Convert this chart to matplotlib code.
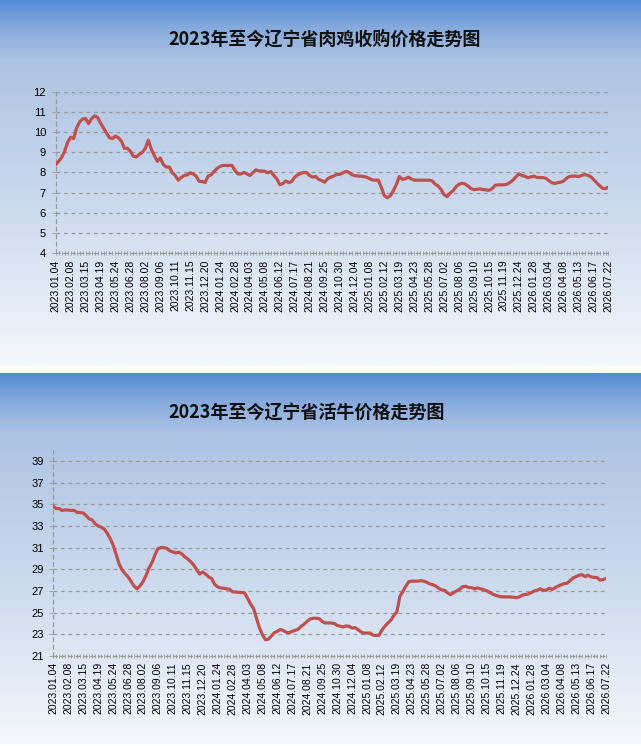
import matplotlib
matplotlib.use("Agg")
import matplotlib.pyplot as plt
import numpy as np
import pandas as pd
from matplotlib.colors import LinearSegmentedColormap
from matplotlib.ticker import MultipleLocator

plt.rcParams['font.family'] = ['Noto Sans CJK SC', 'DejaVu Sans']

# weekly categories, labelled every 5th week
weeks = pd.date_range("2023-01-04", periods=186, freq="7D")
tick_labels = [d.strftime("%Y.%m.%d") for d in weeks[::5]]

chicken = [
    8.40, 8.55, 8.75, 9.05, 9.50, 9.75, 9.68, 10.20, 10.50, 10.65,
    10.67, 10.42, 10.67, 10.80, 10.73, 10.45, 10.20, 9.95, 9.72, 9.68,
    9.80, 9.72, 9.55, 9.20, 9.20, 9.05, 8.80, 8.78, 8.90, 9.00,
    9.20, 9.60, 9.15, 8.85, 8.55, 8.72, 8.40, 8.27, 8.27, 8.00,
    7.85, 7.62, 7.75, 7.85, 7.88, 7.98, 7.93, 7.82, 7.56, 7.56,
    7.50, 7.82, 7.88, 8.05, 8.20, 8.30, 8.35, 8.35, 8.35, 8.35,
    8.10, 7.93, 7.93, 8.00, 7.93, 7.85, 7.99, 8.13, 8.08, 8.08,
    8.05, 7.99, 8.05, 7.85, 7.69, 7.40, 7.45, 7.58, 7.50, 7.56,
    7.77, 7.88, 7.96, 8.00, 7.99, 7.85, 7.77, 7.80, 7.66, 7.60,
    7.52, 7.69, 7.77, 7.82, 7.90, 7.91, 7.97, 8.05, 8.02, 7.90,
    7.85, 7.83, 7.82, 7.80, 7.77, 7.70, 7.63, 7.62, 7.62, 7.25,
    6.85, 6.75, 6.85, 7.10, 7.40, 7.80, 7.66, 7.69, 7.77, 7.68,
    7.62, 7.62, 7.62, 7.62, 7.62, 7.62, 7.58, 7.42, 7.33, 7.15,
    6.90, 6.80, 6.98, 7.10, 7.30, 7.42, 7.47, 7.43, 7.33, 7.20,
    7.15, 7.17, 7.19, 7.16, 7.14, 7.12, 7.19, 7.36, 7.39, 7.39,
    7.39, 7.42, 7.50, 7.62, 7.78, 7.93, 7.85, 7.82, 7.74, 7.78,
    7.82, 7.76, 7.75, 7.75, 7.72, 7.60, 7.50, 7.45, 7.50, 7.52,
    7.58, 7.72, 7.80, 7.82, 7.82, 7.80, 7.85, 7.90, 7.86, 7.80,
    7.65, 7.50, 7.35, 7.22, 7.20, 7.28,
]

cattle = [
    34.80, 34.60, 34.60, 34.42, 34.48, 34.45, 34.43, 34.42, 34.25, 34.23,
    34.20, 33.95, 33.65, 33.55, 33.20, 33.00, 32.88, 32.72, 32.35, 31.85,
    31.25, 30.40, 29.50, 28.95, 28.60, 28.30, 27.90, 27.45, 27.20, 27.45,
    27.85, 28.40, 29.10, 29.60, 30.30, 30.90, 31.00, 31.00, 30.92, 30.70,
    30.60, 30.50, 30.57, 30.42, 30.15, 29.95, 29.70, 29.40, 28.95, 28.55,
    28.75, 28.55, 28.30, 28.15, 27.60, 27.38, 27.28, 27.25, 27.20, 27.15,
    26.92, 26.90, 26.88, 26.85, 26.82, 26.35, 25.80, 25.40, 24.50, 23.60,
    22.95, 22.50, 22.55, 22.85, 23.15, 23.28, 23.45, 23.35, 23.18, 23.15,
    23.28, 23.37, 23.48, 23.75, 23.95, 24.20, 24.42, 24.48, 24.48, 24.45,
    24.18, 24.05, 24.05, 24.05, 24.00, 23.83, 23.75, 23.68, 23.77, 23.74,
    23.58, 23.62, 23.43, 23.22, 23.12, 23.12, 23.12, 22.92, 22.90, 22.90,
    23.40, 23.75, 24.05, 24.30, 24.75, 25.06, 26.50, 26.95, 27.45, 27.85,
    27.90, 27.90, 27.90, 27.95, 27.90, 27.80, 27.65, 27.58, 27.45, 27.25,
    27.10, 27.05, 26.82, 26.66, 26.85, 27.00, 27.15, 27.38, 27.43, 27.32,
    27.30, 27.20, 27.28, 27.20, 27.12, 27.02, 26.88, 26.72, 26.60, 26.52,
    26.46, 26.45, 26.45, 26.45, 26.42, 26.38, 26.45, 26.62, 26.68, 26.72,
    26.85, 27.00, 27.06, 27.20, 27.06, 27.06, 27.25, 27.14, 27.30, 27.45,
    27.57, 27.68, 27.72, 27.95, 28.20, 28.33, 28.45, 28.50, 28.32, 28.45,
    28.30, 28.25, 28.23, 28.00, 28.05, 28.14,
]

titles = ["2023年至今辽宁省肉鸡收购价格走势图", "2023年至今辽宁省活牛价格走势图"]

W, H = 641, 746
fig = plt.figure(figsize=(W / 100, H / 100), dpi=100, facecolor="white")

bg_cmap = LinearSegmentedColormap.from_list(
    "bg", [(0.0, "#558bd6"), (0.07, "#84a9dc"), (0.16, "#adc3e3"),
           (0.55, "#cbd9ed"), (0.85, "#e6edf7"), (1.0, "#f4f7fb")])


def px_axes(x0, y0, x1, y1):
    # pixel box (top-left origin) -> figure axes
    return fig.add_axes([x0 / W, 1 - y1 / H, (x1 - x0) / W, (y1 - y0) / H])


def draw_panel(top, bottom, plot_box, values, ylim, ystep, yticks_start, title, title_y):
    bg = px_axes(0, top, W, bottom)
    bg.imshow(np.linspace(0, 1, 300).reshape(-1, 1), aspect="auto", cmap=bg_cmap,
              extent=[0, 1, 0, 1], origin="upper")
    bg.axis("off")

    fig.text(168 / W, 1 - title_y / H, title, ha="left", va="center",
             fontsize=13, fontweight="bold", color="#111111")

    ax = px_axes(*plot_box)
    ax.patch.set_alpha(0)
    x = np.arange(len(values))
    ax.plot(x, values, color="#c0504d", lw=2.3, solid_joinstyle="round", zorder=3)

    ax.set_xlim(0, len(values) - 1)
    ax.set_ylim(*ylim)
    ax.set_yticks(np.arange(yticks_start, ylim[1] + 0.01, ystep))
    ax.yaxis.grid(True, color="#999999", lw=0.9, ls=(0, (3, 3)))
    ax.set_axisbelow(True)

    ax.set_xticks(x[::5])
    ax.set_xticklabels(tick_labels, rotation=90, family="Liberation Sans", fontsize=7.5)
    ax.xaxis.set_minor_locator(MultipleLocator(1))
    ax.tick_params(axis="x", which="both", length=3, width=0.6, color="#999999",
                   direction="inout", pad=3)
    ax.tick_params(axis="y", length=3, width=0.6, color="#999999", pad=4,
                   labelsize=8)
    for lab in ax.get_yticklabels():
        lab.set_family("Liberation Sans")

    for s in ("top", "right"):
        ax.spines[s].set_visible(False)
    for s in ("left", "bottom"):
        ax.spines[s].set_color("#999999")
        ax.spines[s].set_linewidth(0.9)
        ax.spines[s].set_linestyle((0, (3, 3)))
    return ax


draw_panel(0, 366, (55.7, 91.7, 608.5, 253.3), chicken, (4, 12), 1, 4,
           titles[0], 39)
draw_panel(373, 744, (53.3, 450, 606, 656), cattle, (21, 40), 2, 21,
           titles[1], 413)

fig.savefig("out.png", dpi=100, facecolor="white")
